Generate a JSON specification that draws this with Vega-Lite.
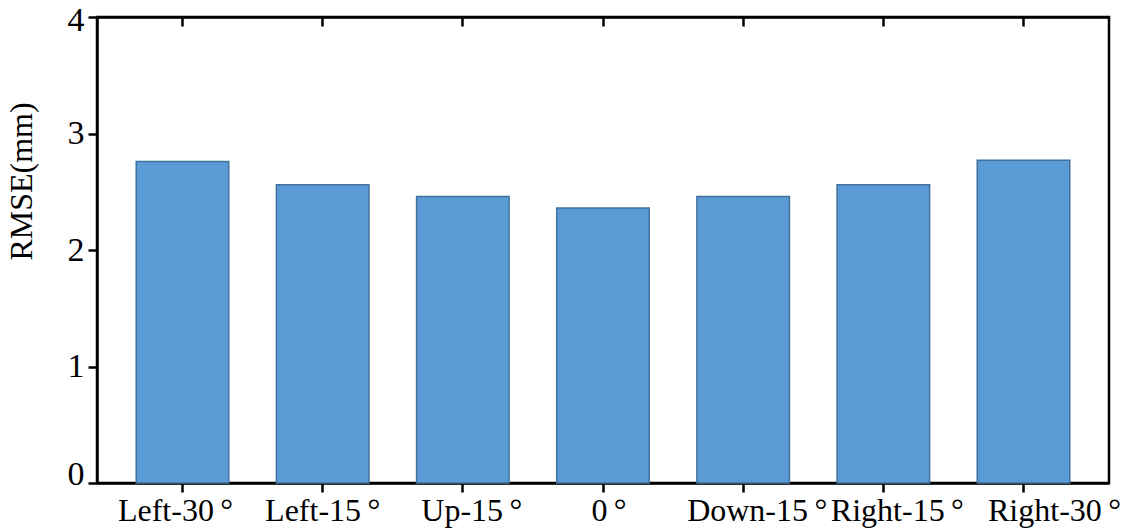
{
  "$schema": "https://vega.github.io/schema/vega-lite/v6.json",
  "width": 1012,
  "height": 466,
  "autosize": {"type": "none"},
  "padding": {"left": 97, "top": 17, "right": 13, "bottom": 49},
  "background": "white",
  "view": {"stroke": "black", "strokeWidth": 2.5},
  "data": {
    "values": [
      {"angle": "Left-30°", "rmse": 2.76},
      {"angle": "Left-15°", "rmse": 2.56},
      {"angle": "Up-15°", "rmse": 2.46},
      {"angle": "0°", "rmse": 2.36},
      {"angle": "Down-15°", "rmse": 2.46},
      {"angle": "Right-15°", "rmse": 2.56},
      {"angle": "Right-30°", "rmse": 2.77}
    ]
  },
  "resolve": {"axis": {"x": "independent"}},
  "layer": [
    {
      "mark": {"type": "bar", "fill": "#5B9BD5", "stroke": "#41719C", "strokeWidth": 1.5},
      "encoding": {
        "x": {
          "field": "angle",
          "type": "nominal",
          "sort": null,
          "scale": {"paddingInner": 0.34, "paddingOuter": 0.28},
          "axis": {
            "orient": "bottom",
            "title": null,
            "labelAngle": 0,
            "labelExpr": "replace(datum.label, '°', '\u2009°')",
            "labelFont": "Liberation Serif",
            "labelFontSize": 32,
            "labelColor": "black",
            "labelPadding": 3,
            "labelBaseline": "top",
            "labelOverlap": false,
            "labelOffset": {
              "condition": [
                {"test": "datum.value === 'Left-30°'", "value": -7},
                {"test": "datum.value === 'Up-15°'", "value": 9},
                {"test": "datum.value === '0°'", "value": 6},
                {"test": "datum.value === 'Down-15°'", "value": 14},
                {"test": "datum.value === 'Right-15°'", "value": 14},
                {"test": "datum.value === 'Right-30°'", "value": 31}
              ],
              "value": 0
            },
            "domainColor": "black",
            "domainWidth": 2.5,
            "tickColor": "black",
            "tickWidth": 2.5,
            "tickSize": 9
          }
        },
        "y": {
          "field": "rmse",
          "type": "quantitative",
          "scale": {"domain": [0, 4], "nice": false},
          "axis": {
            "title": "RMSE(mm)",
            "titleFont": "Liberation Serif",
            "titleFontSize": 32,
            "titleFontWeight": "normal",
            "titleColor": "black",
            "titleX": -59,
            "titleY": 164,
            "titleAngle": -90,
            "titleAlign": "center",
            "titleBaseline": "bottom",
            "values": [0, 1, 2, 3, 4],
            "format": "d",
            "labelFont": "Liberation Serif",
            "labelFontSize": 34,
            "labelColor": "black",
            "labelPadding": 4,
            "labelOffset": {
              "condition": [
                {"test": "datum.value === 0", "value": -9},
                {"test": "datum.value === 4", "value": 3}
              ],
              "value": 0
            },
            "grid": false,
            "domainColor": "black",
            "domainWidth": 2.5,
            "tickColor": "black",
            "tickWidth": 2.5,
            "tickSize": 9
          }
        }
      }
    },
    {
      "mark": {"type": "bar", "opacity": 0},
      "encoding": {
        "x": {
          "field": "angle",
          "type": "nominal",
          "sort": null,
          "axis": {
            "orient": "top",
            "title": null,
            "labels": false,
            "ticks": true,
            "domain": true,
            "domainColor": "black",
            "domainWidth": 2.5,
            "tickColor": "black",
            "tickWidth": 2.5,
            "tickSize": -9,
            "zindex": 1
          }
        }
      }
    }
  ]
}
